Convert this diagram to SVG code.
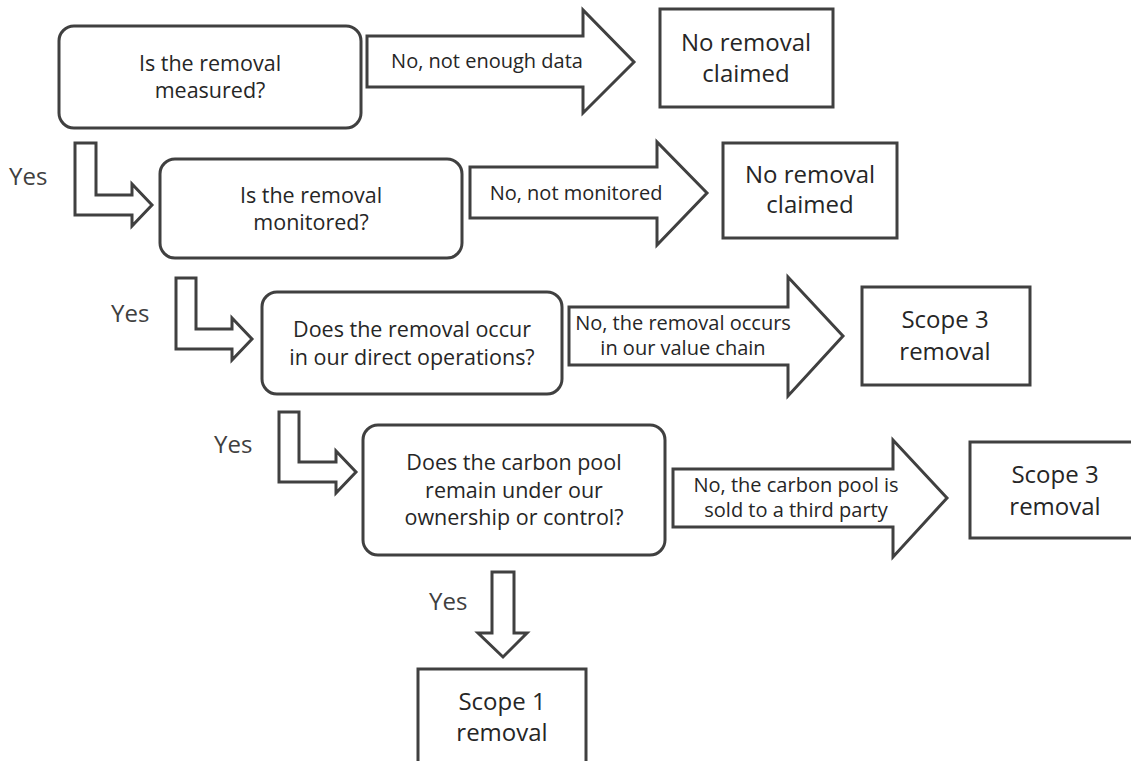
<svg xmlns="http://www.w3.org/2000/svg" width="1131" height="761" viewBox="0 0 1131 761">
  <style>
    .shape { fill: #ffffff; stroke: #404040; stroke-width: 3; stroke-linejoin: miter; }
    .txt { font-family: "Segoe UI", "Open Sans", "Noto Sans", sans-serif; fill: #262626; text-anchor: middle; }
    .q { font-size: 21.5px; }
    .res { font-size: 24px; }
    .lbl { font-size: 20px; }
    .lbl-sm { font-size: 20px; }
    .yes { font-size: 24px; fill: #404040; text-anchor: start; }
  </style>
  <rect width="1131" height="761" fill="#ffffff"/>

  <!-- connectors: block arrows and their labels -->
  <g id="connectors">
    <g id="arrow-no-1">
      <polygon class="shape" points="367,36 583,36 583,10 634,62 583,113 583,87 367,87"/>
      <text class="txt lbl" x="487" y="68">No, not enough data</text>
    </g>
    <g id="arrow-no-2">
      <polygon class="shape" points="470,167 657,167 657,142 707,193 657,245 657,218 470,218"/>
      <text class="txt lbl" x="576" y="200">No, not monitored</text>
    </g>
    <g id="arrow-no-3">
      <polygon class="shape" points="569,307 788,307 788,277 843,336 788,396 788,365 569,365"/>
      <text class="txt lbl-sm" x="683" y="330">No, the removal occurs</text>
      <text class="txt lbl-sm" x="683" y="355">in our value chain</text>
    </g>
    <g id="arrow-no-4">
      <polygon class="shape" points="673,469 893,469 893,440 947,498 893,557 893,527 673,527"/>
      <text class="txt lbl-sm" x="796" y="492">No, the carbon pool is</text>
      <text class="txt lbl-sm" x="796" y="517">sold to a third party</text>
    </g>
    <g id="arrow-yes-1">
      <polygon class="shape" points="75,143 96,143 96,195 132,195 132,184 152,205 132,226 132,215 75,215"/>
      <text class="txt yes" x="9" y="185">Yes</text>
    </g>
    <g id="arrow-yes-2">
      <polygon class="shape" points="176,278 196,278 196,329 232,329 232,318 252,339 232,360 232,349 176,349"/>
      <text class="txt yes" x="111" y="322">Yes</text>
    </g>
    <g id="arrow-yes-3">
      <polygon class="shape" points="279,412 299,412 299,462 336,462 336,451 356,472 336,493 336,482 279,482"/>
      <text class="txt yes" x="214" y="453">Yes</text>
    </g>
    <g id="arrow-yes-4">
      <polygon class="shape" points="492,572 514,572 514,633 527,633 503,657 478,633 492,633"/>
      <text class="txt yes" x="429" y="610">Yes</text>
    </g>
  </g>

  <!-- decision nodes -->
  <g id="q-measured">
    <rect class="shape" x="59" y="26" width="302" height="102" rx="15"/>
    <text class="txt q" x="210" y="71">Is the removal</text>
    <text class="txt q" x="210" y="98">measured?</text>
  </g>
  <g id="q-monitored">
    <rect class="shape" x="160" y="159" width="302" height="99" rx="15"/>
    <text class="txt q" x="311" y="203">Is the removal</text>
    <text class="txt q" x="311" y="230">monitored?</text>
  </g>
  <g id="q-direct-ops">
    <rect class="shape" x="262" y="292" width="300" height="102" rx="15"/>
    <text class="txt q" x="412" y="337">Does the removal occur</text>
    <text class="txt q" x="412" y="365">in our direct operations?</text>
  </g>
  <g id="q-ownership">
    <rect class="shape" x="363" y="425" width="302" height="130" rx="15"/>
    <text class="txt q" x="514" y="470">Does the carbon pool</text>
    <text class="txt q" x="514" y="498">remain under our</text>
    <text class="txt q" x="514" y="525">ownership or control?</text>
  </g>

  <!-- outcome nodes -->
  <g id="out-none-1">
    <rect class="shape" x="660" y="9" width="173" height="98"/>
    <text class="txt res" x="746" y="51">No removal</text>
    <text class="txt res" x="746" y="82">claimed</text>
  </g>
  <g id="out-none-2">
    <rect class="shape" x="723" y="143" width="174" height="95"/>
    <text class="txt res" x="810" y="183">No removal</text>
    <text class="txt res" x="810" y="213">claimed</text>
  </g>
  <g id="out-scope3-1">
    <rect class="shape" x="862" y="287" width="168" height="98"/>
    <text class="txt res" x="945" y="328">Scope 3</text>
    <text class="txt res" x="945" y="360">removal</text>
  </g>
  <g id="out-scope3-2">
    <rect class="shape" x="970" y="442" width="175" height="96"/>
    <text class="txt res" x="1055" y="483">Scope 3</text>
    <text class="txt res" x="1055" y="515">removal</text>
  </g>
  <g id="out-scope1">
    <rect class="shape" x="418" y="669" width="168" height="110"/>
    <text class="txt res" x="502" y="710">Scope 1</text>
    <text class="txt res" x="502" y="741">removal</text>
  </g>
</svg>
